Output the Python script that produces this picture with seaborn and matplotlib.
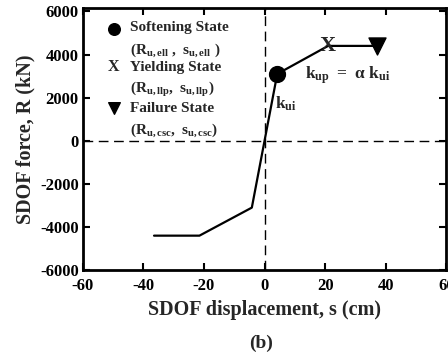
import matplotlib
matplotlib.use("Agg")
import matplotlib.pyplot as plt
import seaborn as sns
import pandas as pd

# Pushover backbone of the SDOF system
disp_cm = [-36.5, -21.5, -4.2, 4.2, 21.0, 37.0]
force_kN = [-4400, -4400, -3100, 3100, 4400, 4400]

# Characteristic states: softening, yielding, failure
state_names = ["Softening", "Yielding", "Failure"]
state_disp = [4.2, 21.0, 37.0]
state_force = [3100, 4400, 4400]

x_ticks = [-60, -40, -20, 0, 20, 40, 60]
y_ticks = [-6000, -4000, -2000, 0, 2000, 4000, 6000]

sns.set_theme(style="ticks")
plt.rcParams["font.family"] = ["Liberation Serif", "DejaVu Serif"]
plt.rcParams["font.weight"] = "bold"
plt.rcParams["mathtext.fontset"] = "custom"
plt.rcParams["mathtext.rm"] = "Liberation Serif:bold"
plt.rcParams["mathtext.it"] = "Liberation Serif:bold"
plt.rcParams["mathtext.bf"] = "Liberation Serif:bold"

fig = plt.figure(figsize=(4.48, 3.55), dpi=100)
ax = fig.add_axes([0.185, 0.239, 0.811, 0.738])

curve = pd.DataFrame({"s": disp_cm, "R": force_kN})
sns.lineplot(data=curve, x="s", y="R", ax=ax, color="black", lw=1.6,
             sort=False, estimator=None)

ax.axhline(0, color="black", lw=1, ls=(0, (7, 4)), zorder=0)
ax.axvline(0, color="black", lw=1, ls=(0, (7, 4)), zorder=0)

ax.scatter([state_disp[0]], [state_force[0]], marker="o", s=130,
           color="black", zorder=5)
ax.text(state_disp[1], state_force[1], "X", ha="center", va="center",
        fontsize=16, fontweight="bold", zorder=5)
ax.scatter([state_disp[2]], [state_force[2]], marker="v", s=150,
           color="black", zorder=5)

# Stiffness annotations
ax.text(3.6, 2150, r"$\mathrm{k_{ui}}$", fontsize=12.5, va="top", ha="left")
ax.text(13.2, 3050, r"$\mathrm{k_{up}\ =\ \alpha\ k_{ui}}$", fontsize=12.5,
        va="center", ha="left")

# Legend block
tx_m, tx_t = -49.8, -44.5
ax.scatter([tx_m], [5200], marker="o", s=70, color="black", clip_on=False)
ax.text(tx_t, 5250, "Softening State", fontsize=11, va="center", fontweight="bold")
ax.text(tx_t, 4200, r"$\mathrm{(R_{u,ell}\ ,\ s_{u,ell}\ )}$", fontsize=11, va="center")
ax.text(tx_m, 3400, "X", fontsize=11.5, va="center", ha="center", fontweight="bold")
ax.text(tx_t, 3400, "Yielding State", fontsize=11, va="center", fontweight="bold")
ax.text(tx_t, 2400, r"$\mathrm{(R_{u,llp},\ s_{u,llp})}$", fontsize=11, va="center")
ax.scatter([tx_m], [1500], marker="v", s=70, color="black")
ax.text(tx_t, 1500, "Failure State", fontsize=11, va="center", fontweight="bold")
ax.text(tx_t, 500, r"$\mathrm{(R_{u,csc},\ s_{u,csc})}$", fontsize=11, va="center")

ax.set_xlim(-60, 60)
ax.set_ylim(-6000, 6150)
ax.set_xticks(x_ticks)
ax.set_yticks(y_ticks)
ax.set_xticklabels([str(v) for v in x_ticks], fontsize=12, fontweight="bold")
ax.set_yticklabels([str(v) for v in y_ticks], fontsize=12, fontweight="bold")
ax.tick_params(axis="x", pad=6)
ax.tick_params(axis="y", pad=3)
ax.tick_params(direction="in", length=5, width=1.5, top=True, right=True,
               colors="black")
for sp in ax.spines.values():
    sp.set_linewidth(2)
    sp.set_color("black")
    sp.set_visible(True)

ax.set_xlabel("SDOF displacement, s (cm)", fontsize=14.5, fontweight="bold", labelpad=4)
ax.set_ylabel("SDOF force, R (kN)", fontsize=14.5, fontweight="bold", labelpad=3)
fig.text(0.583, 0.02, "(b)", fontsize=14, fontweight="bold", ha="center")

fig.savefig("out.png", dpi=100)
